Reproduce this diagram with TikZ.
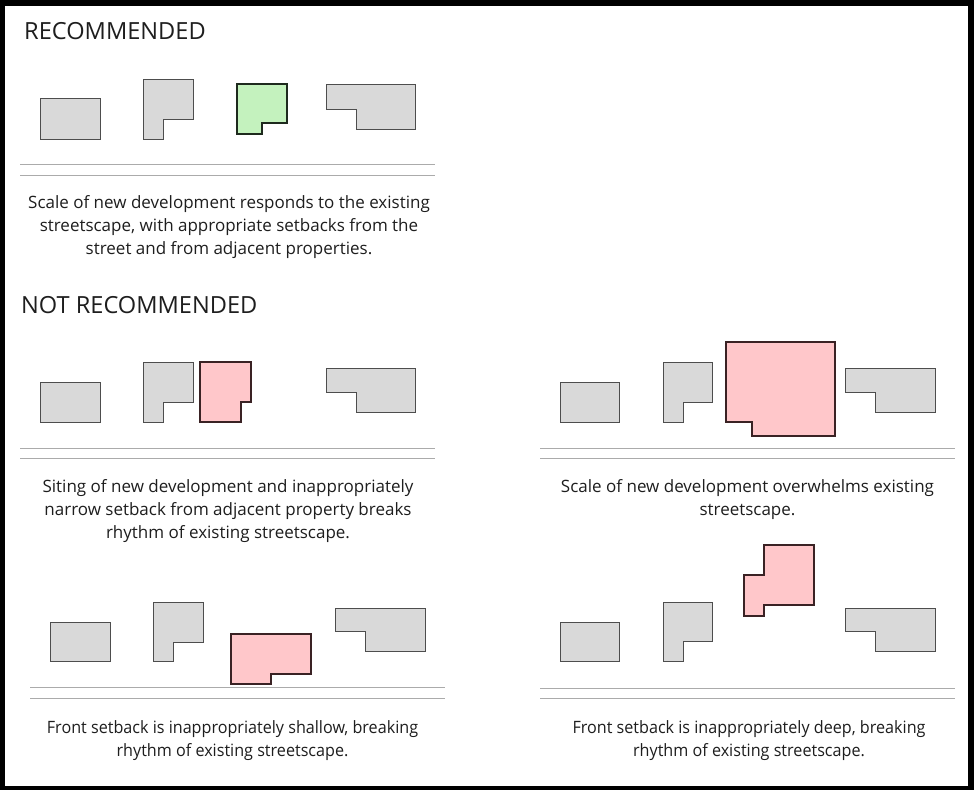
\documentclass[tikz,border=0pt]{standalone}
\usepackage{fontspec}
\setmainfont{Open Sans}
\definecolor{bgray}{HTML}{D9D9D9}
\definecolor{sgray}{HTML}{4D4D4D}
\definecolor{lgreen}{HTML}{C4F2BE}
\definecolor{dkgreen}{HTML}{1E2A1E}
\definecolor{lpink}{HTML}{FFC7CA}
\definecolor{dkred}{HTML}{3A2224}
\definecolor{rgray}{HTML}{ABABAB}
\definecolor{txt}{HTML}{1E1E1E}
\tikzset{
  bldg/.style={fill=bgray,draw=sgray,line width=1pt,line join=miter},
  newok/.style={fill=lgreen,draw=dkgreen,line width=1.5pt,line join=miter},
  newbad/.style={fill=lpink,draw=dkred,line width=1.5pt,line join=miter},
  road/.style={draw=rgray,line width=1pt},
  caption/.style={font=\fontsize{17}{23}\selectfont,align=center,text=txt,inner sep=0pt,anchor=base},
  heading/.style={font=\fontsize{23.6}{26}\selectfont,text=txt,inner sep=0pt,anchor=base west}
}
\begin{document}
\begin{tikzpicture}[x=1pt,y=-1pt]
\useasboundingbox (0,0) rectangle (974,790);
% frame
\fill[black] (0,0) rectangle (974,790);
\fill[white] (5,6) rectangle (968,786);

% ---------- RECOMMENDED ----------
\node[heading] (h1) at (24,39) {RECOMMENDED};
\draw[bldg] (40,98) rectangle (100,139);
\draw[bldg] (143,79) -- (193,79) -- (193,119) -- (163,119) -- (163,139) -- (143,139) -- cycle;
\draw[newok] (237,84) -- (287,84) -- (287,123) -- (262,123) -- (262,134) -- (237,134) -- cycle;
\draw[bldg] (326,84) -- (415,84) -- (415,129) -- (356,129) -- (356,109) -- (326,109) -- cycle;
\draw[road] (20,164.5) -- (435,164.5);
\draw[road] (20,175) -- (435,175);
\node[caption] (c1) at (229,254) {Scale of new development responds to the existing\\streetscape, with appropriate setbacks from the\\street and from adjacent properties.};

% ---------- NOT RECOMMENDED ----------
\node[heading] (h2) at (21,313) {NOT RECOMMENDED};

% panel 2 (left, narrow setback)
\draw[bldg] (40,382) rectangle (100,422);
\draw[bldg] (143,362) -- (193,362) -- (193,402) -- (163,402) -- (163,422) -- (143,422) -- cycle;
\draw[newbad] (200,362) -- (251,362) -- (251,402) -- (241,402) -- (241,422) -- (200,422) -- cycle;
\draw[bldg] (326,368) -- (415,368) -- (415,412) -- (356,412) -- (356,392) -- (326,392) -- cycle;
\draw[road] (20,448) -- (435,448);
\draw[road] (20,458.5) -- (435,458.5);
\node[caption] (c2) at (228,538) {Siting of new development and inappropriately\\narrow setback from adjacent property breaks\\rhythm of existing streetscape.};

% panel 3 (right, overwhelming scale)
\draw[bldg] (560,382) rectangle (619,422);
\draw[bldg] (663,362) -- (712,362) -- (712,402) -- (683,402) -- (683,422) -- (663,422) -- cycle;
\draw[newbad] (726,342) -- (835,342) -- (835,436) -- (752,436) -- (752,422) -- (726,422) -- cycle;
\draw[bldg] (845,368) -- (935,368) -- (935,412) -- (875,412) -- (875,392) -- (845,392) -- cycle;
\draw[road] (540,448) -- (955,448);
\draw[road] (540,458.5) -- (955,458.5);
\node[caption] (c3) at (747.5,515) {Scale of new development overwhelms existing\\streetscape.};

% panel 4 (left, shallow setback)
\draw[bldg] (50,622) rectangle (110,661);
\draw[bldg] (153,602) -- (203,602) -- (203,642) -- (173,642) -- (173,661) -- (153,661) -- cycle;
\draw[newbad] (231,634) -- (311,634) -- (311,674) -- (271,674) -- (271,684) -- (231,684) -- cycle;
\draw[bldg] (335,608) -- (425,608) -- (425,651) -- (365,651) -- (365,631) -- (335,631) -- cycle;
\draw[road] (30,687.5) -- (445,687.5);
\draw[road] (30,698) -- (445,698);
\node[caption,xscale=0.95] (c4) at (232.5,756) {Front setback is inappropriately shallow, breaking\\rhythm of existing streetscape.};

% panel 5 (right, deep setback)
\draw[bldg] (560,622) rectangle (619,661);
\draw[bldg] (663,602) -- (712,602) -- (712,641) -- (683,641) -- (683,661) -- (663,661) -- cycle;
\draw[newbad] (764,545) -- (814,545) -- (814,605) -- (764,605) -- (764,616) -- (744,616) -- (744,575) -- (764,575) -- cycle;
\draw[bldg] (845,608) -- (935,608) -- (935,651) -- (875,651) -- (875,631) -- (845,631) -- cycle;
\draw[road] (540,688) -- (955,688);
\draw[road] (540,698) -- (955,698);
\node[caption,xscale=0.95] (c5) at (749,756) {Front setback is inappropriately deep, breaking\\rhythm of existing streetscape.};
\end{tikzpicture}
\end{document}
